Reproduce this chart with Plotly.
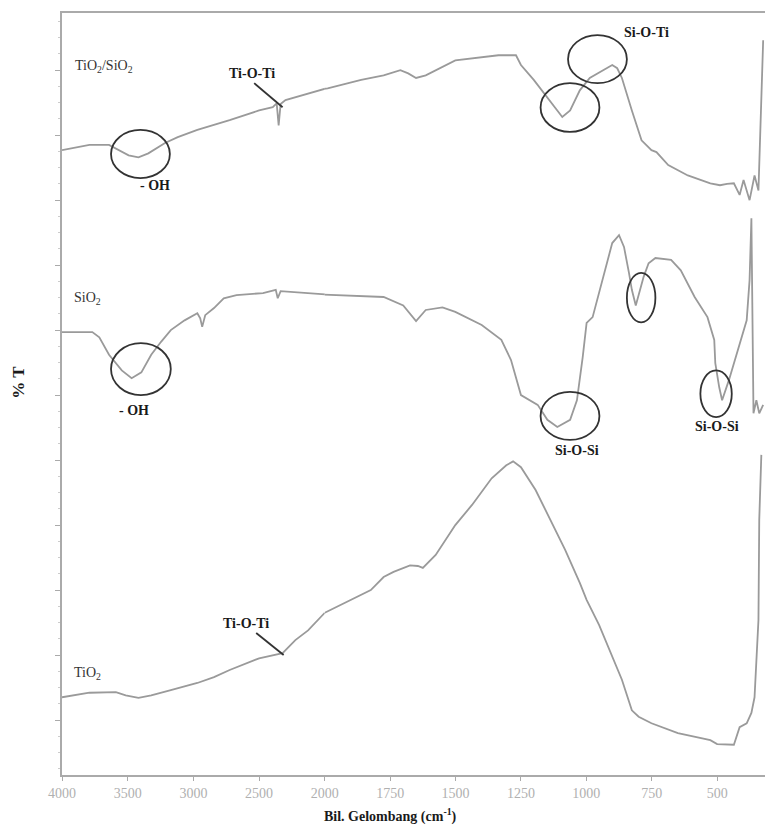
import plotly.graph_objects as go

# ---- data (wavenumber cm-1, %T arbitrary offset units) ----
wn_tisi = [4000, 3791, 3642, 3567, 3493, 3418, 3343, 3216, 3119, 2970, 2724, 2500, 2396, 2366, 2351,
           2336, 2299, 1989, 1861, 1775, 1711, 1681, 1651, 1614, 1501, 1400, 1336, 1269, 1250, 1201,
           1164, 1126, 1092, 1062, 1025, 987, 950, 901, 882, 864, 826, 789, 751, 732, 687, 612, 526,
           489, 462, 436, 414, 399, 376, 357, 342, 324]
t_tisi = [87.7, 88.5, 88.5, 87.7, 86.9, 86.6, 87.2, 88.8, 89.7, 90.8, 92.3, 93.8, 94.3, 94.9, 91.5,
          94.8, 95.4, 97.2, 98.5, 99.2, 100.0, 99.5, 98.8, 99.2, 101.5, 102.0, 102.3, 102.3, 100.8, 98.5,
          96.6, 94.6, 92.8, 93.8, 96.9, 98.8, 99.7, 100.8, 100.3, 98.8, 93.8, 89.2, 87.7, 87.4, 85.4,
          83.8, 82.6, 82.3, 82.5, 82.6, 80.8, 83.1, 80.0, 83.8, 81.5, 104.6]

wn_si = [4000, 3769, 3716, 3642, 3545, 3470, 3396, 3321, 3246, 3172, 3067, 2970, 2948, 2933, 2910,
         2843, 2769, 2672, 2470, 2373, 2358, 2336, 1989, 1775, 1700, 1670, 1651, 1614, 1550, 1501,
         1400, 1325, 1288, 1250, 1186, 1149, 1111, 1062, 1036, 1014, 999, 976, 939, 901, 875, 856,
         837, 826, 811, 792, 781, 762, 736, 676, 639, 586, 537, 511, 507, 492, 481, 455, 425, 387,
         376, 369, 361, 350, 339, 324]
t_si = [59.7, 59.7, 58.9, 56.2, 53.8, 52.6, 53.5, 56.2, 58.2, 60.0, 61.5, 62.6, 61.8, 60.5, 62.3,
        63.4, 64.9, 65.4, 65.7, 66.2, 64.9, 66.0, 65.5, 65.1, 63.8, 62.3, 61.4, 63.1, 63.5, 62.8,
        60.8, 58.5, 55.4, 50.0, 48.5, 46.2, 45.1, 46.2, 49.2, 55.8, 61.1, 62.0, 67.7, 73.4, 74.6, 72.8,
        68.8, 66.2, 63.8, 66.6, 68.2, 70.3, 71.1, 70.8, 69.2, 65.1, 62.0, 58.5, 54.9, 51.2, 49.2, 52.3,
        56.5, 61.5, 67.7, 77.2, 47.2, 49.2, 47.2, 48.5]

wn_ti = [4000, 3791, 3590, 3515, 3418, 3321, 3172, 2970, 2843, 2724, 2500, 2396, 2321, 2224, 2127,
         2000, 1925, 1824, 1775, 1737, 1674, 1644, 1625, 1576, 1501, 1437, 1362, 1306, 1280, 1250,
         1194, 1137, 1081, 1025, 999, 951, 901, 864, 826, 800, 751, 650, 526, 500, 436, 414, 387,
         369, 357, 342, 339, 331]
t_ti = [3.5, 4.2, 4.3, 3.8, 3.4, 3.8, 4.6, 5.7, 6.6, 7.7, 9.5, 10.0, 10.3, 12.3, 13.8,
        16.5, 18.0, 20.0, 22.0, 22.8, 23.8, 23.7, 23.4, 25.4, 30.0, 33.1, 37.2, 39.2, 39.8, 38.9,
        35.4, 30.8, 26.2, 21.1, 18.5, 14.6, 9.7, 6.2, 1.5, 0.5, -0.5, -2.0, -3.1, -3.7, -3.8, -1.1, -0.5,
        1.1, 3.5, 15.4, 30.8, 40.8]

x_ticks_hi = [4000, 3500, 3000, 2500, 2000]
x_ticks_lo = [1750, 1500, 1250, 1000, 750, 500]
split_wn = 2000

LINE = "#9a9a9a"
INK = "#1a1a1a"
SERIF = "Liberation Serif, Times New Roman, serif"

fig = go.Figure()


def add_curve(wn, t):
    hi_x, hi_y, lo_x, lo_y = [], [], [], []
    for i, (w, v) in enumerate(zip(wn, t)):
        if w >= split_wn or (i > 0 and wn[i - 1] > split_wn):
            hi_x.append(w); hi_y.append(v)
        if w <= split_wn or (i + 1 < len(wn) and wn[i + 1] < split_wn):
            lo_x.append(w); lo_y.append(v)
    fig.add_trace(go.Scatter(x=hi_x, y=hi_y, xaxis="x", yaxis="y", mode="lines",
                             line=dict(color=LINE, width=1.8), hoverinfo="skip", showlegend=False))
    fig.add_trace(go.Scatter(x=lo_x, y=lo_y, xaxis="x2", yaxis="y", mode="lines",
                             line=dict(color=LINE, width=1.8), hoverinfo="skip", showlegend=False))


add_curve(wn_tisi, t_tisi)
add_curve(wn_si, t_si)
add_curve(wn_ti, t_ti)

# ellipses marking bands: (axis, x0, x1, y0, y1)
ellipses = [
    ("x", 3627, 3179, 83.4, 90.8),
    ("x2", 1070, 845, 98.0, 105.4),
    ("x2", 1175, 950, 90.5, 98.0),
    ("x", 3627, 3172, 50.0, 58.0),
    ("x2", 1175, 950, 43.1, 50.5),
    ("x2", 845, 736, 61.2, 68.8),
    ("x2", 564, 444, 46.6, 53.8),
]
for ax, x0, x1, y0, y1 in ellipses:
    fig.add_shape(type="circle", xref=ax, yref="y", x0=x0, x1=x1, y0=y0, y1=y1,
                  line=dict(color="#333333", width=1.8))

# pointer lines
for x0, y0, x1, y1 in [(2537, 98.0, 2321, 94.3), (2522, 13.4, 2313, 10.0)]:
    fig.add_shape(type="line", xref="x", yref="y", x0=x0, y0=y0, x1=x1, y1=y1,
                  line=dict(color="#333333", width=1.8))

# (axis, x, y, text, anchor, bold)
labels = [
    ("x", 3918, 100.5, "TiO<sub>2</sub>/SiO<sub>2</sub>", "left", False),
    ("x", 2552, 99.5, "Ti-O-Ti", "center", True),
    ("x", 3291, 82.3, "- OH", "center", True),
    ("x2", 770, 105.8, "Si-O-Ti", "center", True),
    ("x", 3925, 64.9, "SiO<sub>2</sub>", "left", False),
    ("x", 3455, 47.7, "- OH", "center", True),
    ("x2", 1036, 41.5, "Si-O-Si", "center", True),
    ("x2", 500, 45.1, "Si-O-Si", "center", True),
    ("x", 3925, 7.2, "TiO<sub>2</sub>", "left", False),
    ("x", 2597, 14.9, "Ti-O-Ti", "center", True),
]
for ax, x, y, txt, anc, bold in labels:
    fig.add_annotation(xref=ax, yref="y", x=x, y=y, text=(f"<b>{txt}</b>" if bold else txt),
                       showarrow=False, xanchor=anc, yanchor="middle",
                       font=dict(family=SERIF, size=14, color=INK if bold else "#333333"))

split_frac = 268 / 717
axis_common = dict(showline=True, linecolor="#aaaaaa", linewidth=1.5, mirror=True,
                   showgrid=False, zeroline=False, ticks="outside", ticklen=4,
                   tickcolor="#aaaaaa",
                   tickfont=dict(family=SERIF, size=14, color="#b0b0b0"))

fig.update_layout(
    width=779, height=828,
    margin=dict(l=62, r=0, t=13, b=53),
    paper_bgcolor="white", plot_bgcolor="white",
    xaxis=dict(domain=[0, split_frac], range=[4000, 2000], tickvals=x_ticks_hi,
               anchor="y", **axis_common),
    xaxis2=dict(domain=[split_frac, 1], range=[2000, 317], tickvals=x_ticks_lo,
                anchor="y", **axis_common),
    yaxis=dict(range=[-8.46, 108.8], showline=True, linecolor="#aaaaaa", linewidth=1.5,
               showgrid=False, zeroline=False, showticklabels=False,
               ticks="outside", ticklen=5, tickcolor="#aaaaaa", dtick=10, tick0=0,
               minor=dict(ticks="outside", ticklen=2, dtick=2.5, tickcolor="#cccccc")),
)

fig.add_annotation(xref="paper", yref="paper", x=0.467, y=-0.0525, yanchor="middle",
                   text="<b>Bil. Gelombang (cm<sup>-1</sup>)</b>", showarrow=False,
                   font=dict(family=SERIF, size=14, color=INK))
fig.add_annotation(xref="paper", yref="paper", x=-0.0614, y=0.516, textangle=-90,
                   xanchor="center", yanchor="middle",
                   text="<b>% T</b>", showarrow=False,
                   font=dict(family=SERIF, size=17, color=INK))

fig.write_html("out.html", config={"responsive": False, "displayModeBar": False},
               post_script="document.body.style.margin='0';document.body.style.overflow='hidden';")
